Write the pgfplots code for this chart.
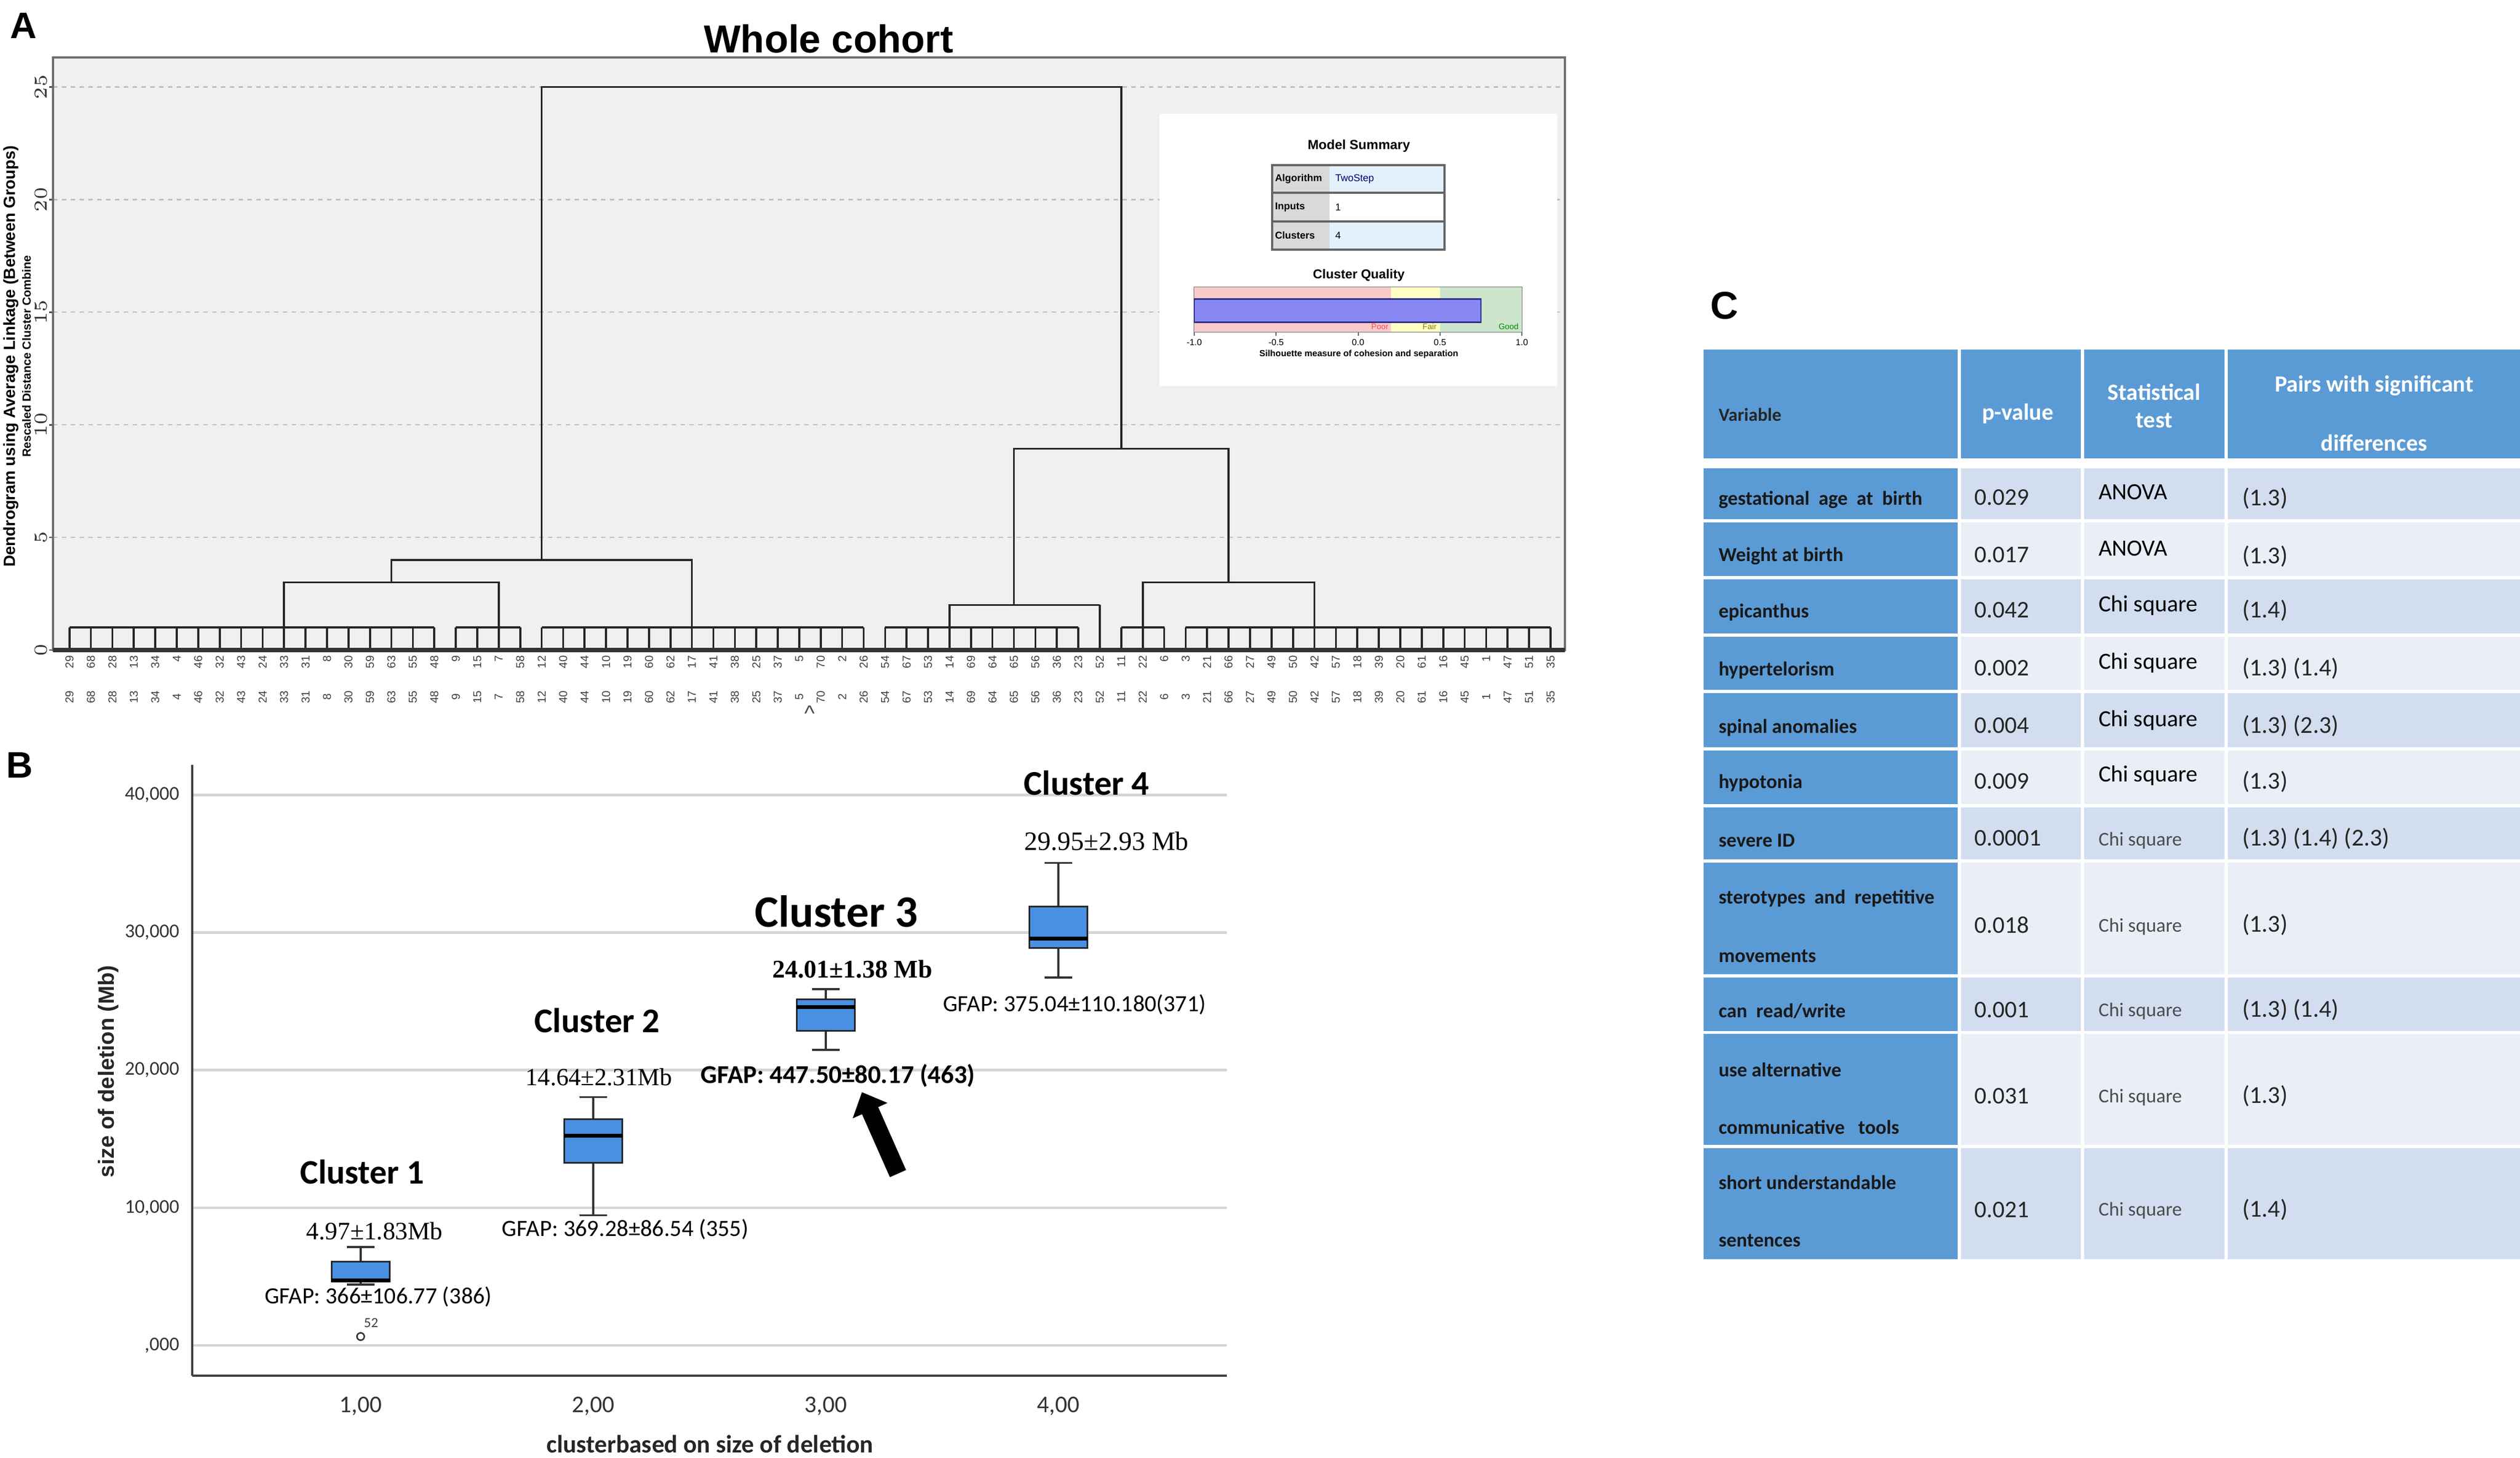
\documentclass[border=0pt]{standalone}
\usepackage{fontspec}
\setmainfont{Liberation Sans}
\newfontfamily\carl{Carlito}
\newfontfamily\tnr{Liberation Serif}
\usepackage{pgfplots}
\usepackage{pgfplotstable}
\pgfplotsset{compat=1.18}
\usepgfplotslibrary{statistics}
\usetikzlibrary{arrows.meta}
\newcommand{\fs}[1]{\fontsize{#1}{#1}\selectfont}

\definecolor{panelgrey}{HTML}{F0F0F0}
\definecolor{framegrey}{HTML}{6E6E6E}
\definecolor{boxblue}{HTML}{4A90E2}
\definecolor{hdrblue}{HTML}{5B9BD5}
\definecolor{bandA}{HTML}{D2DEEF}
\definecolor{bandB}{HTML}{EAEFF7}
\definecolor{poor}{HTML}{F8CACA}
\definecolor{fair}{HTML}{FFFFC4}
\definecolor{good}{HTML}{CCE5CC}
\definecolor{silbar}{HTML}{8888F2}
\definecolor{silbord}{HTML}{2E2E8C}
\definecolor{msgrey}{HTML}{D9D9D9}
\definecolor{msblue}{HTML}{E3F1FC}

% leaves of the dendrogram: position, case label, height of the leaf stem
\pgfplotstableread{
idx lab h
0 29 1
1 68 1
2 28 1
3 13 1
4 34 1
5 4 1
6 46 1
7 32 1
8 43 1
9 24 1
10 33 1
11 31 1
12 8 1
13 30 1
14 59 1
15 63 1
16 55 1
17 48 1
18 9 1
19 15 1
20 7 1
21 58 1
22 12 1
23 40 1
24 44 1
25 10 1
26 19 1
27 60 1
28 62 1
29 17 1
30 41 1
31 38 1
32 25 1
33 37 1
34 5 1
35 70 1
36 2 1
37 26 1
38 54 1
39 67 1
40 53 1
41 14 1
42 69 1
43 64 1
44 65 1
45 56 1
46 36 1
47 23 1
48 52 2
49 11 1
50 22 1
51 6 1
52 3 1
53 21 1
54 66 1
55 27 1
56 49 1
57 50 1
58 42 1
59 57 1
60 18 1
61 39 1
62 20 1
63 61 1
64 16 1
65 45 1
66 1 1
67 47 1
68 51 1
69 35 1
}\leaves

\begin{document}
\begin{tikzpicture}
\useasboundingbox (0pt,0pt) rectangle (684.3pt,-395.85pt);

%================ PANEL A : dendrogram =================
\begin{axis}[
  at={(14.4pt,-15.6pt)}, anchor=north west,
  scale only axis, width=410.55pt, height=160.95pt,
  xmin=-0.764, xmax=69.67, ymin=0, ymax=26.31,
  axis background/.style={fill=panelgrey},
  axis line style={framegrey, line width=0.7pt},
  xtick=\empty,
  ytick={0,5,10,15,20,25},
  ytick pos=left, tick align=outside, major tick length=1.1pt,
  tick style={black!70, line width=0.4pt},
  yticklabel style={rotate=90, anchor=south, font=\fs{3.4}, text=black!80, inner sep=0.4pt},
  ymajorgrids, grid style={black!25, dash pattern=on 1.2pt off 1.2pt, line width=0.35pt},
  clip=false,
]
\addplot[ycomb, black!85, line width=0.55pt, mark=none] table[x=idx, y=h] {\leaves};
\addplot[black!85, line width=0.55pt, mark=none, unbounded coords=jump] coordinates {
(0,1) (17,1) (0,nan)
(18,1) (21,1) (0,nan)
(22,1) (37,1) (0,nan)
(38,1) (47,1) (0,nan)
(49,1) (51,1) (0,nan)
(52,1) (69,1) (0,nan)
(10,1) (10,3) (20,3) (20,1) (0,nan)
(15,3) (15,4) (29,4) (29,1) (0,nan)
(22,4) (22,25) (49,25) (49,8.94) (0,nan)
(44,2) (44,8.94) (54,8.94) (54,3) (0,nan)
(41,1) (41,2) (48,2) (0,nan)
(50,1) (50,3) (58,3) (58,1)
};
\draw[black!80, line width=1.1pt] (axis cs:-0.764,0) -- (axis cs:69.67,0);
% case labels, two rows
\addplot[draw=none, mark=none, point meta=explicit symbolic, nodes near coords,
  nodes near coords style={yshift=-1.0pt, rotate=90, anchor=east, font=\fs{3.1}, text=black!75, inner sep=0.3pt}]
  table[x=idx, y expr=0, meta=lab] {\leaves};
\addplot[draw=none, mark=none, point meta=explicit symbolic, nodes near coords,
  nodes near coords style={yshift=-12.75pt, rotate=90, anchor=center, font=\fs{3.1}, text=black!75, inner sep=0.3pt}]
  table[x=idx, y expr=0, meta=lab] {\leaves};
\end{axis}

\begin{scope}[x=0.15pt,y=-0.15pt]
\node[font=\bfseries\fs{10}] at (43,47) {A};
\node[font=\bfseries\fs{10.6}] at (1500,70) {Whole cohort};
\node[rotate=90, font=\bfseries\fs{4.4}] at (20,645) {Dendrogram using Average Linkage (Between Groups)};
\node[rotate=90, font=\bfseries\fs{3.2}] at (48,645) {Rescaled Distance Cluster Combine};
\node[font=\fs{6}, text=black!70] at (1466,1292) {\textasciicircum};
% inset: model summary
\fill[white] (2099,206) rectangle (2819,699);
\node[font=\bfseries\fs{3.6}] at (2460,264) {Model Summary};
\fill[msgrey] (2303,299) rectangle (2407,452);
\fill[msblue] (2407,299) rectangle (2615,349);
\fill[msblue] (2407,401) rectangle (2615,452);
\draw[black!60, line width=0.5pt] (2303,299) rectangle (2615,452);
\draw[black!60, line width=0.5pt] (2303,349) -- (2615,349) (2303,401) -- (2615,401);
\node[anchor=west, font=\bfseries\fs{2.7}, inner sep=0pt] at (2307,324) {Algorithm};
\node[anchor=west, font=\fs{2.7}, text=blue!45!black, inner sep=0pt] at (2416,324) {TwoStep};
\node[anchor=west, font=\bfseries\fs{2.7}, inner sep=0pt] at (2307,375) {Inputs};
\node[anchor=west, font=\fs{2.7}, inner sep=0pt] at (2416,375) {1};
\node[anchor=west, font=\bfseries\fs{2.7}, inner sep=0pt] at (2307,426) {Clusters};
\node[anchor=west, font=\fs{2.7}, inner sep=0pt] at (2416,426) {4};
\node[font=\bfseries\fs{3.5}] at (2460,498) {Cluster Quality};
\node[font=\bfseries\fs{2.4}] at (2460,641) {Silhouette measure of cohesion and separation};
\end{scope}

% cluster quality bar
\begin{axis}[
  at={(324.3pt,-78pt)}, anchor=north west,
  scale only axis, width=88.95pt, height=12.15pt,
  xmin=-1, xmax=1, ymin=0, ymax=1,
  axis line style={black!55, line width=0.4pt},
  ytick=\empty,
  xtick={-1,-0.5,0,0.5,1}, xticklabels={-1.0,-0.5,0.0,0.5,1.0},
  xtick pos=bottom, tick align=outside, major tick length=1pt,
  tick style={black!60, line width=0.3pt},
  xticklabel style={font=\fs{2.4}, inner sep=0.8pt},
  clip=false,
]
\addplot[draw=none, fill=poor] coordinates {(-1,0) (0.2,0) (0.2,1) (-1,1)} -- cycle;
\addplot[draw=none, fill=fair] coordinates {(0.2,0) (0.5,0) (0.5,1) (0.2,1)} -- cycle;
\addplot[draw=none, fill=good] coordinates {(0.5,0) (1,0) (1,1) (0.5,1)} -- cycle;
\addplot[draw=silbord, line width=0.4pt, fill=silbar] coordinates {(-1,0.22) (0.75,0.22) (0.75,0.735) (-1,0.735)} -- cycle;
\node[font=\fs{2.2}, text=red!70] at (axis cs:0.133,0.12) {Poor};
\node[font=\fs{2.2}, text=olive] at (axis cs:0.437,0.12) {Fair};
\node[font=\fs{2.2}, text=green!55!black] at (axis cs:0.919,0.12) {Good};
\end{axis}

%================ PANEL B : box plots (values in thousands) =================
\begin{axis}[
  at={(52.2pt,-207.75pt)}, anchor=north west,
  scale only axis, width=280.95pt, height=165.9pt,
  xmin=0.276, xmax=4.724, ymin=-2.207, ymax=42.175,
  axis x line*=bottom, axis y line*=left,
  axis line style={black!75, line width=0.5pt, -},
  xtick={1,2,3,4}, xticklabels={{1,00},{2,00},{3,00},{4,00}},
  ytick={0,10,20,30,40},
  yticklabels={{,000},{10,000},{20,000},{30,000},{40,000}},
  major tick length=0pt,
  ymajorgrids, grid style={black!17, line width=0.7pt},
  xticklabel style={font=\carl\fs{6.5}, text=black!80, yshift=-2.2pt},
  yticklabel style={font=\carl\fs{5.3}, text=black!80},
  clip=false,
  boxplot/draw direction=y,
  boxplot/every median/.style={line width=1.1pt, black},
  boxplot/every whisker/.style={black!80, line width=0.55pt},
  boxplot/every box/.style={draw=black!85, line width=0.5pt, fill=boxblue},
]
\addplot[boxplot prepared={lower whisker=4.42, lower quartile=4.65, median=4.72,
   upper quartile=6.07, upper whisker=7.145, draw position=1, box extend=0.25, whisker extend=0.12},
   mark=o, mark size=1pt, mark options={black!80, line width=0.4pt}] coordinates {(0,0.642)};
\addplot[boxplot prepared={lower whisker=9.45, lower quartile=13.26, median=15.22,
   upper quartile=16.43, upper whisker=18.04, draw position=2, box extend=0.25, whisker extend=0.12}] coordinates {};
\addplot[boxplot prepared={lower whisker=21.48, lower quartile=22.85, median=24.57,
   upper quartile=25.15, upper whisker=25.88, draw position=3, box extend=0.25, whisker extend=0.12}] coordinates {};
\addplot[boxplot prepared={lower whisker=26.74, lower quartile=28.87, median=29.55,
   upper quartile=31.89, upper whisker=35.05, draw position=4, box extend=0.25, whisker extend=0.12}] coordinates {};

\node[font=\carl\bfseries\fs{9.3}] at (axis cs:1.007,12.59) {Cluster 1};
\node[font=\tnr\fs{6.8}] at (axis cs:1.06,8.30) {4.97±1.83Mb};
\node[font=\carl\fs{6.3}] at (axis cs:1.076,3.517) {GFAP: 366±106.77 (386)};
\node[font=\carl\fs{3.8}, text=black!75] at (axis cs:1.045,1.65) {52};
\node[font=\carl\bfseries\fs{9.4}] at (axis cs:2.017,23.62) {Cluster 2};
\node[font=\tnr\fs{6.7}] at (axis cs:2.024,19.48) {14.64±2.31Mb};
\node[font=\carl\fs{6.35}] at (axis cs:2.138,8.45) {GFAP: 369.28±86.54 (355)};
\node[font=\carl\bfseries\fs{12.2}] at (axis cs:3.045,31.55) {Cluster 3};
\node[font=\tnr\bfseries\fs{6.9}] at (axis cs:3.114,27.34) {24.01±1.38 Mb};
\node[font=\carl\bfseries\fs{7}] at (axis cs:3.052,19.59) {GFAP: 447.50±80.17 (463)};
\node[font=\carl\bfseries\fs{9.4}] at (axis cs:4.121,40.86) {Cluster 4};
\node[font=\tnr\fs{7.2}] at (axis cs:4.207,36.62) {29.95±2.93 Mb};
\node[font=\carl\fs{6.3}] at (axis cs:4.069,24.76) {GFAP: 375.04±110.180(371)};
\draw[black, line width=4.8pt, -{Triangle[width=10pt, length=5.5pt]}]
   (axis cs:3.31,12.48) -- (axis cs:3.155,18.40);
\end{axis}

\begin{scope}[x=0.15pt,y=-0.15pt]
\node[font=\bfseries\fs{10}] at (36,1386) {B};
\node[rotate=90, font=\bfseries\fs{6}, text=black!85] at (196,1940) {size of deletion (Mb)};
\node[font=\carl\bfseries\fs{6.8}, text=black!85] at (1285,2615) {clusterbased on size of deletion};

%================ PANEL C : table =================
\node[font=\bfseries\fs{10.5}] at (3122,553) {C};
\fill[hdrblue] (3084,633) rectangle (3544,830);
\fill[hdrblue] (3550,633) rectangle (3767,830);
\fill[hdrblue] (3773,633) rectangle (4027,830);
\fill[hdrblue] (4033,633) rectangle (4562,830);
\foreach \a/\b/\c in {848/940/bandA, 946/1043/bandB, 1049/1147/bandA, 1153/1249/bandB,
  1255/1353/bandA, 1359/1456/bandB, 1462/1556/bandA, 1562/1764/bandB, 1770/1867/bandA,
  1872/2073/bandB, 2079/2280/bandA} {
  \fill[hdrblue] (3084,\a) rectangle (3544,\b);
  \fill[\c] (3550,\a) rectangle (3767,\b);
  \fill[\c] (3773,\a) rectangle (4027,\b);
  \fill[\c] (4033,\a) rectangle (4562,\b);
}
\tikzset{
  hv/.style={anchor=west, font=\carl\bfseries\fs{5}, text=black!85, inner sep=0pt},
  hw/.style={font=\carl\bfseries\fs{6.3}, text=white, inner sep=0pt},
  cA/.style={anchor=west, font=\carl\bfseries\fs{5.4}, text=black!90, inner sep=0pt},
  cB/.style={anchor=west, font=\carl\fs{6.5}, text=black!85, inner sep=0pt},
  cC/.style={anchor=west, font=\carl\fs{6.3}, text=black, inner sep=0pt},
  cCs/.style={anchor=west, font=\carl\fs{5.3}, text=black!70, inner sep=0pt},
  cD/.style={anchor=west, font=\carl\fs{6.6}, text=black!85, inner sep=0pt},
}
\node[hv] at (3110,751) {Variable};
\node[hw] at (3653,749) {p-value};
\node[hw] at (3900,710) {Statistical};
\node[hw] at (3900,761) {test};
\node[hw] at (4298,698) {Pairs with significant};
\node[hw] at (4298,802) {differences};
% row 1
\node[cA] at (3110,905) {gestational\ \ age\ \ at\ \ birth};
\node[cB] at (3573,901) {0.029};
\node[cC] at (3798,891) {ANOVA};
\node[cD] at (4058,902) {(1.3)};
% row 2
\node[cA] at (3110,1007) {Weight at birth};
\node[cB] at (3573,1005) {0.017};
\node[cC] at (3798,993) {ANOVA};
\node[cD] at (4058,1007) {(1.3)};
% row 3
\node[cA] at (3110,1109) {epicanthus};
\node[cB] at (3573,1105) {0.042};
\node[cC] at (3798,1096) {Chi square};
\node[cD] at (4058,1105) {(1.4)};
% row 4
\node[cA] at (3110,1214) {hypertelorism};
\node[cB] at (3573,1210) {0.002};
\node[cC] at (3798,1200) {Chi square};
\node[cD] at (4058,1210) {(1.3) (1.4)};
% row 5
\node[cA] at (3110,1318) {spinal anomalies};
\node[cB] at (3573,1314) {0.004};
\node[cC] at (3798,1304) {Chi square};
\node[cD] at (4058,1314) {(1.3) (2.3)};
% row 6
\node[cA] at (3110,1418) {hypotonia};
\node[cB] at (3573,1415) {0.009};
\node[cC] at (3798,1404) {Chi square};
\node[cD] at (4058,1415) {(1.3)};
% row 7
\node[cA] at (3110,1522) {severe ID};
\node[cB] at (3573,1518) {0.0001};
\node[cCs] at (3798,1522) {Chi square};
\node[cD] at (4058,1518) {(1.3) (1.4) (2.3)};
% row 8
\node[cA] at (3110,1627) {sterotypes\ \ and\ \ repetitive};
\node[cA] at (3110,1731) {movements};
\node[cB] at (3573,1675) {0.018};
\node[cCs] at (3798,1678) {Chi square};
\node[cD] at (4058,1675) {(1.3)};
% row 9
\node[cA] at (3110,1831) {can\ \ read/write};
\node[cB] at (3573,1829) {0.001};
\node[cCs] at (3798,1831) {Chi square};
\node[cD] at (4058,1829) {(1.3) (1.4)};
% row 10
\node[cA] at (3110,1937) {use alternative};
\node[cA] at (3110,2041) {communicative\ \ \ tools};
\node[cB] at (3573,1985) {0.031};
\node[cCs] at (3798,1987) {Chi square};
\node[cD] at (4058,1985) {(1.3)};
% row 11
\node[cA] at (3110,2141) {short understandable};
\node[cA] at (3110,2246) {sentences};
\node[cB] at (3573,2191) {0.021};
\node[cCs] at (3798,2192) {Chi square};
\node[cD] at (4058,2191) {(1.4)};
\end{scope}
\end{tikzpicture}
\end{document}
